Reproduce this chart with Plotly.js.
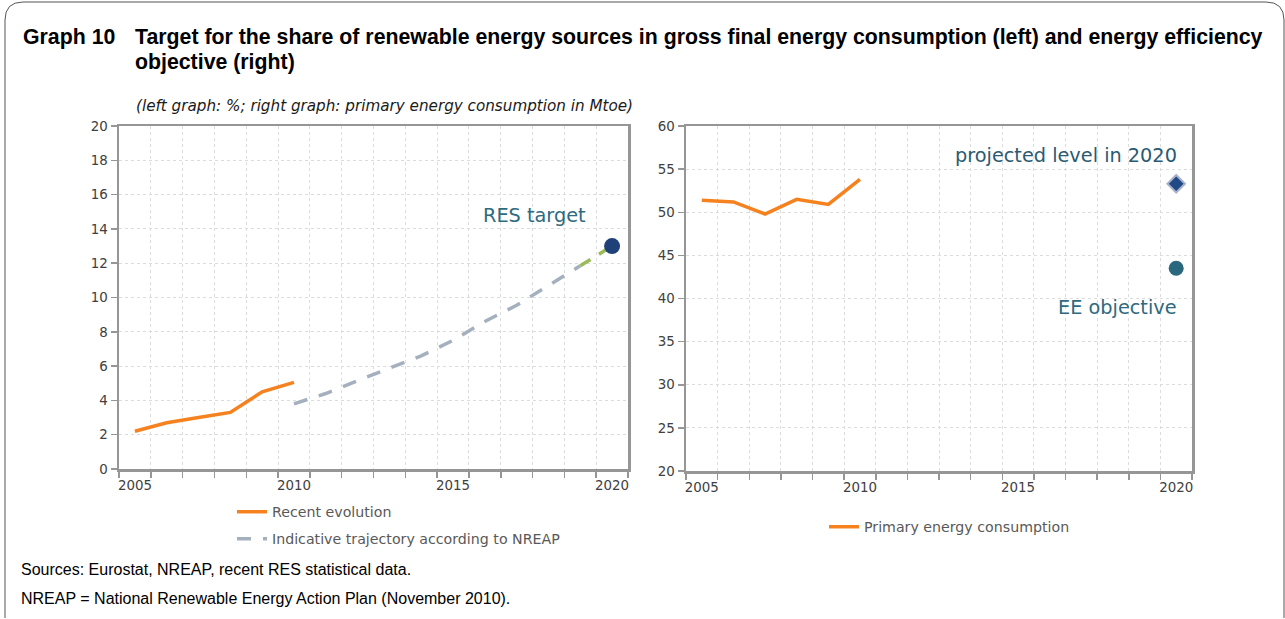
<!DOCTYPE html>
<html>
<head>
<meta charset="utf-8">
<script src="https://cdn.plot.ly/plotly-3.0.1.min.js"></script>
<style>html,body{margin:0;padding:0;background:#fff;}#chart{width:1285px;height:619px;}</style>
</head>
<body>
<div id="chart"></div>
<script>
// ---- data ----
const recentYears = [2005, 2006, 2007, 2008, 2009, 2010];
const recentRES = [2.2, 2.7, 3.0, 3.3, 4.5, 5.05];
const trajYears = [2010, 2011, 2012, 2013, 2014, 2015, 2016, 2017, 2018, 2019];
const trajRES = [3.8, 4.4, 5.15, 5.85, 6.6, 7.5, 8.6, 9.55, 10.7, 11.85];
const lastStepYears = [2019, 2020];
const lastStepRES = [11.85, 13.0];
const targetYear = [2020];
const targetRES = [13.0];
const pecYears = [2005, 2006, 2007, 2008, 2009, 2010];
const pecValues = [51.4, 51.2, 49.8, 51.5, 50.9, 53.8];
const projectedYear = [2020];
const projectedValue = [53.3];
const eeYear = [2020];
const eeValue = [43.5];
const xTickVals = [2005, 2010, 2015, 2020];
const xTickText = ['2005', '2010', '2015', '2020'];
const legendNames = ['Recent evolution', 'Indicative trajectory according to NREAP', 'Primary energy consumption'];

// ---- layout helpers ----
const W = 1285, H = 619;
const px = v => v / W;
const py = v => 1 - v / H;

const tickFont = {family: 'DejaVu Sans, sans-serif', size: 13.4, color: '#404040'};
const gridCol = '#dcdcdc';
const lineCol = '#969696';

function xAxis(domain, anchor) {
  return {
    domain: domain, anchor: anchor, range: [2004.5, 2020.5],
    tickmode: 'array', tickvals: xTickVals, ticktext: xTickText,
    ticks: '', showgrid: false, zeroline: false,
    showline: true, linecolor: lineCol, linewidth: 2.5, mirror: true,
    tickfont: tickFont, ticklabelstandoff: 2,
    minor: {tick0: 2004.5, dtick: 1, ticks: 'outside', ticklen: 6, tickcolor: lineCol, tickwidth: 1.5,
            showgrid: true, gridcolor: gridCol, griddash: 'dot', gridwidth: 1},
    fixedrange: true
  };
}
function yAxis(domain, anchor, range, dtick) {
  return {
    domain: domain, anchor: anchor, range: range, dtick: dtick, tick0: range[0],
    ticks: 'outside', ticklen: 6, tickcolor: lineCol, tickwidth: 1.5,
    showgrid: true, gridcolor: gridCol, griddash: 'dot', gridwidth: 1, zeroline: false,
    showline: true, linecolor: lineCol, linewidth: 2.5, mirror: true,
    tickfont: tickFont, fixedrange: true
  };
}

const traces = [
  {x: recentYears, y: recentRES, type: 'scatter', mode: 'lines', name: legendNames[0], legendgroup: 'a',
   line: {color: '#f5821f', width: 3.5}, xaxis: 'x', yaxis: 'y', legend: 'legend'},
  {x: trajYears, y: trajRES, type: 'scatter', mode: 'lines', name: legendNames[1], legendgroup: 'b',
   line: {color: '#a5b0be', width: 3.5, dash: '14px,12px'}, xaxis: 'x', yaxis: 'y', legend: 'legend'},
  {x: lastStepYears, y: lastStepRES, type: 'scatter', mode: 'lines', showlegend: false,
   line: {color: '#9bbb59', width: 3.5, dash: '12px,10px'}, xaxis: 'x', yaxis: 'y'},
  {x: targetYear, y: targetRES, type: 'scatter', mode: 'markers', showlegend: false,
   marker: {color: '#1f4079', size: 16, line: {width: 0}}, xaxis: 'x', yaxis: 'y', cliponaxis: false},
  {x: pecYears, y: pecValues, type: 'scatter', mode: 'lines', name: legendNames[2],
   line: {color: '#f5821f', width: 3.5}, xaxis: 'x2', yaxis: 'y2', legend: 'legend2'},
  {x: projectedYear, y: projectedValue, type: 'scatter', mode: 'markers', showlegend: false,
   marker: {color: '#1f4a85', symbol: 'diamond', size: 13.5, line: {color: '#aab2cb', width: 2}},
   xaxis: 'x2', yaxis: 'y2', cliponaxis: false},
  {x: eeYear, y: eeValue, type: 'scatter', mode: 'markers', showlegend: false,
   marker: {color: '#2a687e', size: 15, line: {width: 0}}, xaxis: 'x2', yaxis: 'y2', cliponaxis: false}
];

const annFont = {family: 'DejaVu Sans, sans-serif', size: 19.3, color: '#2e6a80'};
const titleFont = {family: 'Liberation Sans, Arial, sans-serif', size: 21.3, color: '#000'};
const srcFont = {family: 'Liberation Sans, Arial, sans-serif', size: 16, color: '#000'};
const legFont = {family: 'DejaVu Sans, sans-serif', size: 14.2, color: '#595959'};

const layout = {
  width: W, height: H,
  margin: {l: 0, r: 0, t: 0, b: 0},
  paper_bgcolor: '#ffffff', plot_bgcolor: '#ffffff',
  showlegend: true,
  xaxis: xAxis([px(119), px(628)], 'y'),
  yaxis: yAxis([py(469), py(126)], 'x', [0, 20], 2),
  xaxis2: xAxis([px(686), px(1192)], 'y2'),
  yaxis2: yAxis([py(471), py(126)], 'x2', [20, 60], 5),
  legend: {x: px(232), y: py(496), xanchor: 'left', yanchor: 'top', bgcolor: 'rgba(0,0,0,0)',
           font: legFont, traceorder: 'grouped', tracegroupgap: 5.5},
  legend2: {x: px(824), y: py(511), xanchor: 'left', yanchor: 'top', bgcolor: 'rgba(0,0,0,0)',
            font: legFont},
  shapes: [
    {type: 'path', xref: 'paper', yref: 'paper',
     path: 'M ' + px(5) + ' ' + py(618) + ' L ' + px(5) + ' ' + py(20) +
           ' Q ' + px(5) + ' ' + py(2) + ' ' + px(23) + ' ' + py(2) +
           ' L ' + px(1266) + ' ' + py(2) +
           ' Q ' + px(1284) + ' ' + py(2) + ' ' + px(1284) + ' ' + py(20) +
           ' L ' + px(1284) + ' ' + py(618),
     line: {color: '#555555', width: 1}}
  ],
  annotations: [
    {xref: 'paper', yref: 'paper', x: px(21), y: py(37), xanchor: 'left', yanchor: 'middle', showarrow: false,
     text: '<b>Graph 10</b>', font: titleFont},
    {xref: 'paper', yref: 'paper', x: px(133), y: py(37), xanchor: 'left', yanchor: 'middle', showarrow: false,
     text: '<b>Target for the share of renewable energy sources in gross final energy consumption (left) and energy efficiency</b>',
     font: titleFont},
    {xref: 'paper', yref: 'paper', x: px(133), y: py(62), xanchor: 'left', yanchor: 'middle', showarrow: false,
     text: '<b>objective (right)</b>', font: titleFont},
    {xref: 'paper', yref: 'paper', x: px(134), y: py(106), xanchor: 'left', yanchor: 'middle', showarrow: false,
     text: '<i>(left graph: %; right graph: primary energy consumption in Mtoe)</i>',
     font: {family: 'DejaVu Sans, sans-serif', size: 15.2, color: '#1a1a1a'}},
    {xref: 'x', yref: 'y', x: 2017.55, y: 14.8, xanchor: 'center', yanchor: 'middle', showarrow: false,
     text: 'RES target', font: annFont},
    {xref: 'x2', yref: 'y2', x: 2020.1, y: 56.6, xanchor: 'right', yanchor: 'middle', showarrow: false,
     text: 'projected level in 2020', font: {family: 'DejaVu Sans, sans-serif', size: 19.3, color: '#2b5a72'}},
    {xref: 'x2', yref: 'y2', x: 2020.1, y: 39.0, xanchor: 'right', yanchor: 'middle', showarrow: false,
     text: 'EE objective', font: annFont},
    {xref: 'paper', yref: 'paper', x: px(19), y: py(569), xanchor: 'left', yanchor: 'middle', showarrow: false,
     text: 'Sources: Eurostat, NREAP, recent RES statistical data.', font: srcFont},
    {xref: 'paper', yref: 'paper', x: px(19), y: py(598), xanchor: 'left', yanchor: 'middle', showarrow: false,
     text: 'NREAP = National Renewable Energy Action Plan (November 2010).', font: srcFont}
  ]
};

Plotly.newPlot('chart', traces, layout, {displayModeBar: false, staticPlot: true});
</script>
</body>
</html>
